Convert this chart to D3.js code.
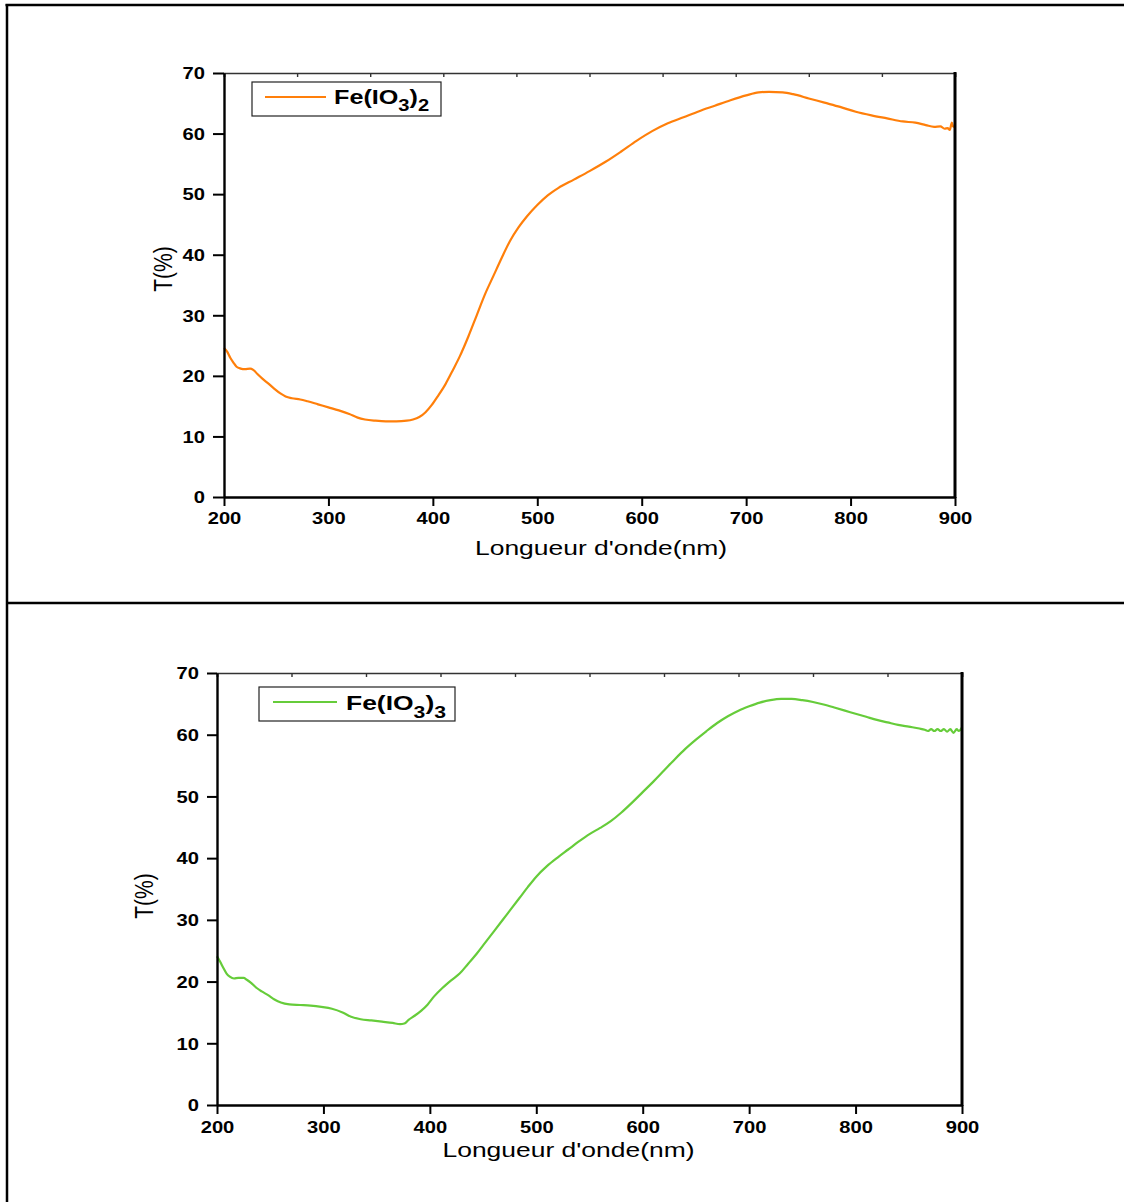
<!DOCTYPE html>
<html>
<head>
<meta charset="utf-8">
<script src="https://cdn.jsdelivr.net/npm/d3@7"></script>
<style>
  body { margin: 0; background: #fff; }
  svg { display: block; }
</style>
</head>
<body>
<svg id="fig" width="1124" height="1202"></svg>
<script>
// Axis ticks
const wavelengthTicks = [200, 300, 400, 500, 600, 700, 800, 900];
const wavelengthMinor = [250, 350, 450, 550, 650, 750, 850];
const transmissionTicks = [0, 10, 20, 30, 40, 50, 60, 70];
const transmissionMinor = [5, 15, 25, 35, 45, 55, 65];

// Transmission spectrum of Fe(IO3)2: [wavelength nm, T %]
const feIO3_2 = [
  [200, 24.6], [203, 24.0], [206, 23.0], [209, 22.2], [212, 21.5], [216, 21.2],
  [220, 21.1], [225, 21.2], [228, 21.0], [232, 20.3], [237, 19.5], [242, 18.8],
  [248, 17.9], [254, 17.1], [259, 16.6], [265, 16.3], [273, 16.1], [280, 15.8],
  [290, 15.3], [300, 14.8], [310, 14.3], [320, 13.7], [328, 13.1], [335, 12.8],
  [345, 12.6], [355, 12.5], [365, 12.5], [375, 12.6], [381, 12.8], [387, 13.2],
  [393, 14.0], [399, 15.2], [405, 16.7], [412, 18.6], [419, 20.9], [426, 23.3],
  [434, 26.5], [442, 30.0], [450, 33.5], [458, 36.5], [466, 39.5], [474, 42.3],
  [482, 44.5], [490, 46.3], [500, 48.2], [510, 49.8], [520, 51.0], [535, 52.4],
  [550, 53.8], [565, 55.3], [580, 57.0], [595, 58.8], [610, 60.4], [625, 61.7],
  [640, 62.7], [655, 63.7], [670, 64.6], [685, 65.5], [700, 66.3], [712, 66.8],
  [722, 66.9], [735, 66.8], [745, 66.5], [760, 65.8], [775, 65.1], [790, 64.4],
  [805, 63.6], [820, 63.0], [835, 62.5], [850, 62.0], [862, 61.8], [872, 61.4],
  [880, 61.1], [886, 61.2], [890, 60.8], [893, 60.9], [895, 60.6], [897, 61.8],
  [898, 61.2], [900, 61.1]
];

// Transmission spectrum of Fe(IO3)3: [wavelength nm, T %]
const feIO3_3 = [
  [200, 24.1], [203, 23.2], [206, 22.2], [209, 21.3], [212, 20.8], [216, 20.5],
  [220, 20.6], [225, 20.6], [228, 20.3], [232, 19.8], [237, 19.0], [242, 18.4],
  [248, 17.8], [254, 17.1], [260, 16.6], [268, 16.3], [278, 16.2], [288, 16.1],
  [298, 15.9], [308, 15.6], [318, 15.0], [326, 14.3], [335, 13.9], [345, 13.7],
  [355, 13.5], [365, 13.3], [372, 13.1], [376, 13.2], [380, 13.8], [386, 14.5],
  [392, 15.3], [398, 16.3], [404, 17.6], [412, 19.0], [420, 20.2], [428, 21.3],
  [436, 22.9], [444, 24.5], [452, 26.3], [460, 28.1], [468, 29.9], [476, 31.7],
  [484, 33.5], [492, 35.3], [500, 37.0], [510, 38.7], [520, 40.1], [530, 41.4],
  [540, 42.7], [550, 43.9], [560, 44.9], [570, 46.0], [580, 47.4], [590, 49.0],
  [600, 50.7], [610, 52.4], [620, 54.2], [630, 56.0], [640, 57.7], [650, 59.2],
  [660, 60.6], [670, 61.9], [680, 63.0], [690, 63.9], [700, 64.6], [710, 65.2],
  [720, 65.6], [730, 65.8], [740, 65.8], [750, 65.6], [760, 65.3], [770, 64.9],
  [780, 64.4], [790, 63.9], [800, 63.4], [810, 62.9], [820, 62.4], [830, 62.0],
  [840, 61.6], [850, 61.3], [860, 61.0], [865, 60.8], [868, 60.6], [871, 60.9],
  [874, 60.6], [877, 60.9], [880, 60.6], [883, 60.9], [886, 60.5], [889, 60.9],
  [892, 60.3], [895, 60.9], [897, 60.6], [900, 61.2]
];

const xTitle = "Longueur d'onde(nm)";
const yTitle = "T(%)";

const FONT = "'Liberation Sans', Arial, Helvetica, sans-serif";
const SX = 1.26; // horizontal stretch of all lettering

const svg = d3.select("#fig");

// page frame and divider between the two figures
svg.append("line").attr("x1", 5.5).attr("x2", 1124).attr("y1", 5).attr("y2", 5)
  .attr("stroke", "#000").attr("stroke-width", 2.5);
svg.append("line").attr("x1", 7).attr("x2", 7).attr("y1", 4).attr("y2", 1202)
  .attr("stroke", "#000").attr("stroke-width", 2.5);
svg.append("line").attr("x1", 7).attr("x2", 1124).attr("y1", 603).attr("y2", 603)
  .attr("stroke", "#000").attr("stroke-width", 2.5);

function drawPanel(p) {
  const x = d3.scaleLinear().domain([200, 900]).range([p.left, p.right]);
  const y = d3.scaleLinear().domain([0, 70]).range([p.bottom, p.top]);
  const g = svg.append("g");

  // curve
  const line = d3.line().x(d => x(d[0])).y(d => y(d[1])).curve(d3.curveMonotoneX);
  g.append("path").datum(p.data)
    .attr("d", line).attr("fill", "none")
    .attr("stroke", p.color).attr("stroke-width", 2.2)
    .attr("stroke-linejoin", "round");

  // top axis: thin frame line with small inward ticks
  const topAx = g.append("g").attr("transform", `translate(0,${p.top})`)
    .call(d3.axisTop(x).tickValues(d3.range(200, 901, 70)).tickSize(-4).tickFormat(""));
  topAx.select(".domain").attr("stroke", "#333").attr("stroke-width", 1.6);
  topAx.selectAll(".tick line").attr("stroke", "#333").attr("stroke-width", 1.4);

  // right frame line
  g.append("line").attr("x1", p.right).attr("x2", p.right)
    .attr("y1", p.top - 1).attr("y2", p.bottom + 1)
    .attr("stroke", "#000").attr("stroke-width", 3);

  // bottom axis
  const bx = g.append("g").attr("transform", `translate(0,${p.bottom})`);
  bx.call(d3.axisBottom(x).tickValues(wavelengthMinor).tickSize(5).tickFormat(""));
  bx.call(d3.axisBottom(x).tickValues(wavelengthTicks).tickSize(p.xTick).tickSizeOuter(0));
  bx.selectAll(".domain").attr("stroke", "#000").attr("stroke-width", 2.4);
  bx.selectAll(".tick line").attr("stroke", "#000").attr("stroke-width", 2);
  bx.selectAll(".tick text")
    .attr("y", p.xLabelDy).attr("dy", 0)
    .attr("transform", `scale(${SX},1)`)
    .attr("font-family", FONT).attr("font-weight", "bold")
    .attr("font-size", 16).attr("fill", "#000");

  // left axis
  const lx = g.append("g").attr("transform", `translate(${p.left},0)`);
  lx.call(d3.axisLeft(y).tickValues(transmissionMinor).tickSize(5).tickFormat(""));
  lx.call(d3.axisLeft(y).tickValues(transmissionTicks).tickSize(p.yTick).tickSizeOuter(0));
  lx.selectAll(".domain").attr("stroke", "#000").attr("stroke-width", 2.4);
  lx.selectAll(".tick line").attr("stroke", "#000").attr("stroke-width", 2);
  lx.selectAll(".tick text")
    .attr("x", -(p.yTick + 8) / SX).attr("dy", "0.36em")
    .attr("transform", `scale(${SX},1)`)
    .attr("font-family", FONT).attr("font-weight", "bold")
    .attr("font-size", 16).attr("fill", "#000");
  svg.selectAll(".domain").attr("fill", "none");

  // axis titles
  svg.append("g").attr("transform", `translate(${p.xTitle[0]},${p.xTitle[1]}) scale(${SX},1)`)
    .append("text").attr("text-anchor", "middle")
    .attr("font-family", FONT).attr("font-size", 21).attr("fill", "#000")
    .text(xTitle);
  svg.append("g").attr("transform", `translate(${p.yTitle[0]},${p.yTitle[1]}) scale(${SX},1) rotate(-90)`)
    .append("text").attr("text-anchor", "middle")
    .attr("font-family", FONT).attr("font-size", 21).attr("fill", "#000")
    .text(yTitle);

  // legend
  const L = p.legend;
  svg.append("rect").attr("x", L.x).attr("y", L.y).attr("width", L.w).attr("height", L.h)
    .attr("fill", "#fff").attr("stroke", "#222").attr("stroke-width", 1.2);
  svg.append("line").attr("x1", L.lx1).attr("x2", L.lx2).attr("y1", L.ly).attr("y2", L.ly)
    .attr("stroke", p.color).attr("stroke-width", 2.2);
  const t = svg.append("g").attr("transform", `translate(${L.tx},${L.ty}) scale(${SX},1)`)
    .append("text").attr("font-family", FONT).attr("font-weight", "bold")
    .attr("font-size", L.fs).attr("fill", "#000");
  const sub = L.fs * 0.8, shift = L.fs * 0.36;
  t.append("tspan").text("Fe(IO");
  t.append("tspan").attr("font-size", sub).attr("dy", shift).text("3");
  t.append("tspan").attr("dy", -shift).text(")");
  t.append("tspan").attr("font-size", sub).attr("dy", shift).text(p.subscript);
}

drawPanel({
  data: feIO3_2, color: "#ff7f0a", subscript: "2",
  left: 224, right: 955, top: 73, bottom: 497,
  xTick: 9, yTick: 11, xLabelDy: 27,
  xTitle: [601, 555], yTitle: [172, 269],
  legend: { x: 252, y: 82, w: 189, h: 34, lx1: 265, lx2: 326, ly: 97,
            tx: 334, ty: 104, fs: 20 }
});

drawPanel({
  data: feIO3_3, color: "#66cc3a", subscript: "3",
  left: 217, right: 962, top: 673, bottom: 1105,
  xTick: 9, yTick: 10, xLabelDy: 28,
  xTitle: [568.5, 1157], yTitle: [153, 896],
  legend: { x: 259, y: 687, w: 196, h: 34, lx1: 273, lx2: 337, ly: 702,
            tx: 346, ty: 710, fs: 21 }
});
</script>
</body>
</html>
